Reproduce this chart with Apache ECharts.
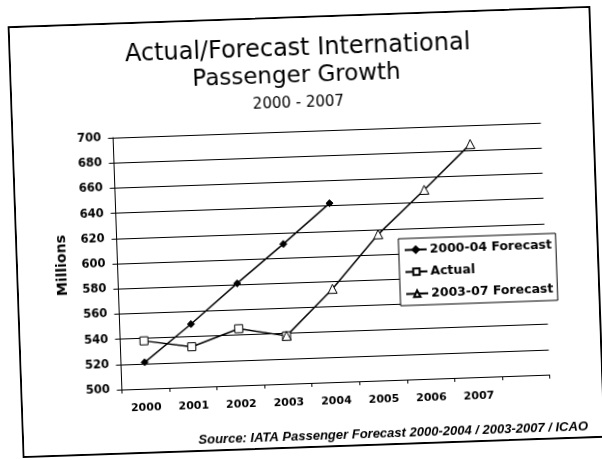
<!DOCTYPE html>
<html>
<head>
<meta charset="utf-8">
<script src="https://cdn.jsdelivr.net/npm/echarts@6/dist/echarts.min.js"></script>
<style>
html,body{margin:0;padding:0;background:#fff;width:602px;height:460px;overflow:hidden;}
#frame{position:absolute;left:15px;top:16px;width:583px;height:432px;box-sizing:border-box;border:2px solid #000;transform:rotate(-2deg);transform-origin:50% 50%;background:#fff;}
#chart{position:absolute;left:0;top:0;width:579px;height:428px;}
</style>
</head>
<body>
<div id="frame"><div id="chart"></div></div>
<script>
const categories = ['2000','2001','2002','2003','2004','2005','2006','2007',''];
const forecast0004 = [521, 550, 581, 611, 642, null, null, null, null];
const actual = [538, 532, 545, 538, null, null, null, null, null];
const forecast0307 = [null, null, null, 538, 574, 616, 650, 685, null];
const yTicks = {min: 500, max: 700, interval: 20};
const titleLines = ['Actual/Forecast International', 'Passenger Growth', '2000 - 2007'];
const sourceText = 'Source: IATA Passenger Forecast 2000-2004 / 2003-2007 / ICAO';

const chart = echarts.init(document.getElementById('chart'), null, {renderer: 'canvas'});
const lineSeries = (name, data, symbol, size, fill) => ({
  name, type: 'line', data, symbol, symbolSize: size, connectNulls: false,
  lineStyle: {color: '#000', width: 1.5},
  itemStyle: {color: fill, borderColor: '#000', borderWidth: 1},
  emphasis: {disabled: true}, animation: false
});
chart.setOption({
  animation: false,
  backgroundColor: '#fff',
  title: [
    {text: titleLines[0], left: 282, top: 14, textAlign: 'center',
     textStyle: {fontFamily: 'DejaVu Sans', fontWeight: 'normal', fontSize: 24, color: '#000'}},
    {text: titleLines[1], left: 280, top: 42, textAlign: 'center',
     textStyle: {fontFamily: 'DejaVu Sans', fontWeight: 'normal', fontSize: 23, color: '#000'}},
    {text: titleLines[2], left: 281, top: 73, textAlign: 'center',
     textStyle: {fontFamily: 'DejaVu Sans', fontWeight: 'normal', fontSize: 15, color: '#000'}},
    {text: sourceText, right: 10, bottom: -2,
     textStyle: {fontFamily: 'Liberation Sans', fontWeight: 'bold', fontStyle: 'italic', fontSize: 13, color: '#000'}}
  ],
  grid: {left: 99.5, right: 51.5, top: 113, bottom: 63},
  legend: {
    orient: 'vertical', left: 381, top: 224,
    itemWidth: 22, itemHeight: 8, itemGap: 9,
    padding: [5, 4, 5, 5],
    borderColor: '#000', borderWidth: 1, backgroundColor: '#fff',
    textStyle: {fontFamily: 'DejaVu Sans', fontWeight: 'bold', fontSize: 12.5, color: '#000', padding: [0,0,0,-2]},
    data: ['2000-04 Forecast', 'Actual', '2003-07 Forecast']
  },
  xAxis: {
    type: 'category', data: categories, boundaryGap: true,
    axisLine: {lineStyle: {color: '#000', width: 1}},
    axisTick: {show: true, length: 4, lineStyle: {color: '#000'}},
    axisLabel: {fontFamily: 'DejaVu Sans', fontWeight: 'bold', fontSize: 11, color: '#000', margin: 14, interval: 0}
  },
  yAxis: {
    type: 'value', min: yTicks.min, max: yTicks.max, interval: yTicks.interval,
    name: 'Millions', nameLocation: 'middle', nameGap: 48,
    nameTextStyle: {fontFamily: 'DejaVu Sans', fontWeight: 'bold', fontSize: 14, color: '#000'},
    axisLine: {show: true, lineStyle: {color: '#000', width: 1}},
    axisTick: {show: true, length: 5, lineStyle: {color: '#000'}},
    axisLabel: {fontFamily: 'DejaVu Sans', fontWeight: 'bold', fontSize: 11.5, color: '#000', margin: 12},
    splitLine: {show: true, lineStyle: {color: '#000', width: 1}}
  },
  series: [
    lineSeries('2000-04 Forecast', forecast0004, 'diamond', 7, '#000'),
    lineSeries('Actual', actual, 'rect', 8, '#fff'),
    lineSeries('2003-07 Forecast', forecast0307, 'triangle', 9, '#fff')
  ]
});
</script>
</body>
</html>
